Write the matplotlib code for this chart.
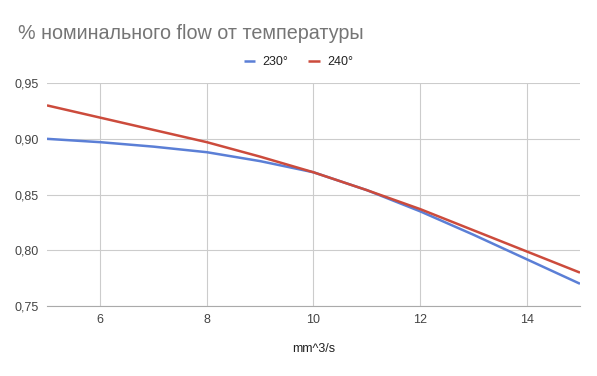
import matplotlib
matplotlib.use("Agg")
from matplotlib import pyplot as plt
from matplotlib.ticker import FuncFormatter

# данные
flow = [5, 6, 7, 8, 9, 10, 11, 12, 13, 14, 15]
t230 = [0.900, 0.897, 0.893, 0.888, 0.880, 0.870, 0.854, 0.835, 0.814, 0.792, 0.770]
t240 = [0.930, 0.919, 0.908, 0.897, 0.884, 0.870, 0.854, 0.837, 0.818, 0.799, 0.780]
series_names = ["230°", "240°"]

plt.rcParams['font.family'] = ['Liberation Sans', 'DejaVu Sans']

fig = plt.figure(figsize=(5.97, 3.76), dpi=100)
ax = fig.add_axes([0.0787, 0.186, 0.8928, 0.593])

ax.plot(flow, t230, color="#5b7fd6", lw=1.8, label=series_names[0], solid_capstyle="butt")
ax.plot(flow, t240, color="#cc4b3c", lw=1.8, label=series_names[1], solid_capstyle="butt")

ax.set_xlim(5, 15)
ax.set_ylim(0.75, 0.95)
ax.set_xticks([6, 8, 10, 12, 14])
ax.set_yticks([0.75, 0.80, 0.85, 0.90, 0.95])
ax.yaxis.set_major_formatter(FuncFormatter(lambda v, p: f"{v:.2f}".replace(".", ",")))
ax.grid(True, color="#cccccc", lw=0.8)
ax.tick_params(length=0, colors="#444444", labelsize=9)
ax.tick_params(axis="x", pad=6)
ax.tick_params(axis="y", pad=6)
for s in ax.spines.values():
    s.set_visible(False)
ax.spines["bottom"].set_visible(True)
ax.spines["bottom"].set_color("#aaaaaa")

ax.set_xlabel("mm^3/s", fontsize=9, color="#222222", labelpad=12)

fig.text(0.03, 0.912, "% номинального flow от температуры", fontsize=14.2, color="#757575", va="center")
# легенда по центру всей картинки, а не осей
fig.legend(loc="lower center", bbox_to_anchor=(0.5, 0.79), ncol=2, frameon=False,
           fontsize=9, handlelength=0.9, handleheight=0.6, handletextpad=0.6,
           columnspacing=1.6, labelcolor="#222222")

fig.savefig("out.png", dpi=100, facecolor="white")
